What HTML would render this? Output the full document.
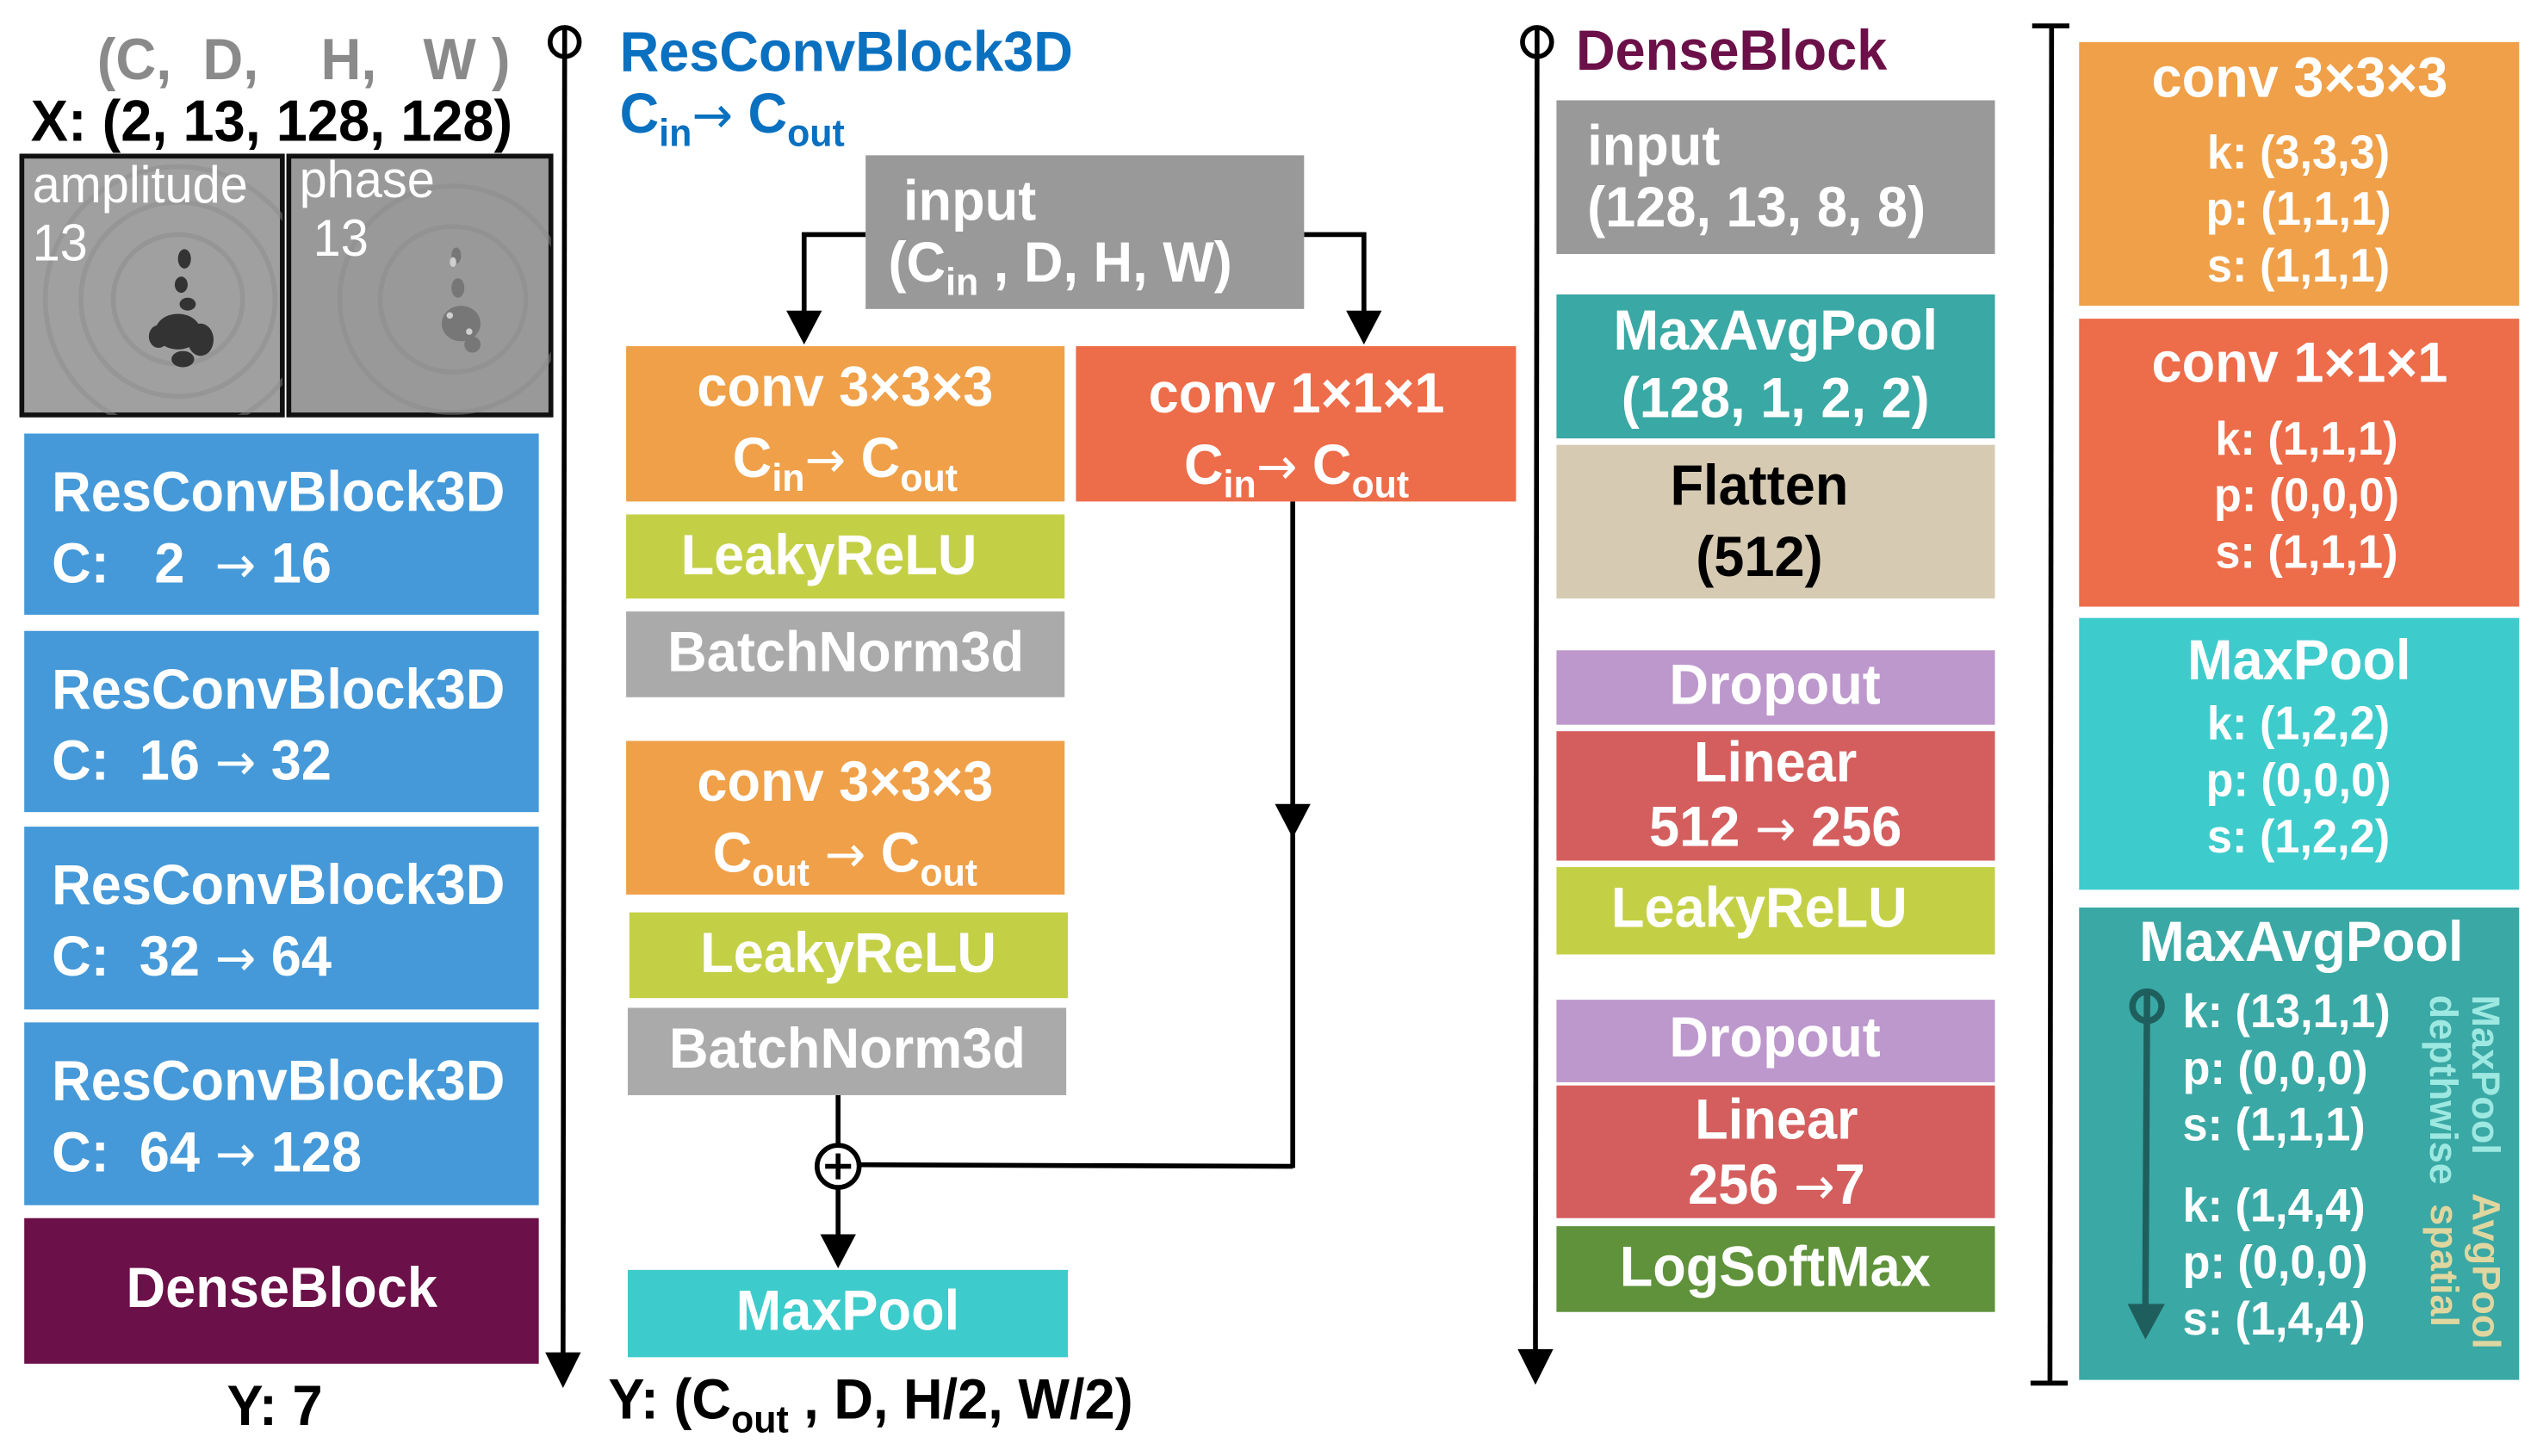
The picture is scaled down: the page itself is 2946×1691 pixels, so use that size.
<!DOCTYPE html>
<html><head><meta charset="utf-8"><style>
html,body{margin:0;padding:0;background:#fff;}
body{width:2946px;height:1691px;overflow:hidden;position:relative;}
#s{position:absolute;left:0;top:0;width:1568px;height:900px;transform:scale(1.8788);transform-origin:0 0;font-family:"Liberation Sans",sans-serif;font-weight:bold;}
.a{position:absolute;}
.b{position:absolute;color:#fff;}
.c{position:absolute;left:0;right:0;text-align:center;white-space:nowrap;}
.l{position:absolute;white-space:nowrap;}
.n{display:inline-block;transform:scaleX(.96);transform-origin:center;}
.nl{display:inline-block;transform:scaleX(.96);transform-origin:left center;}
sub{font-size:68%;vertical-align:-0.35em;line-height:0;}
.ar{font-family:"DejaVu Sans",sans-serif;font-weight:normal;font-size:90%;}
</style></head><body><div id="s">

<svg class="a" style="left:0;top:0" width="1568" height="900">
<defs>
<clipPath id="c1"><rect x="13.5" y="96.5" width="161" height="160"/></clipPath>
<clipPath id="c2"><rect x="178.5" y="96.5" width="162" height="160"/></clipPath>
</defs>
<circle cx="349" cy="26" r="9" fill="none" stroke="#000" stroke-width="3"/>
<line x1="349" y1="18" x2="348" y2="840" stroke="#000" stroke-width="3"/>
<polygon points="337,836 359,836 348,858" fill="#000"/>
<circle cx="950" cy="26" r="9" fill="none" stroke="#000" stroke-width="3"/>
<line x1="950" y1="18" x2="949" y2="838" stroke="#000" stroke-width="3"/>
<polygon points="938,834 960,834 949,856" fill="#000"/>
<line x1="1268" y1="16" x2="1267" y2="855" stroke="#000" stroke-width="3"/>
<line x1="1256" y1="16" x2="1279" y2="16" stroke="#000" stroke-width="3"/>
<line x1="1255" y1="855" x2="1278" y2="855" stroke="#000" stroke-width="3"/>
<polyline points="535,145 497,145 497,195" fill="none" stroke="#000" stroke-width="3"/>
<polygon points="486,192 508,192 497,213" fill="#000"/>
<polyline points="806,145 843,145 843,195" fill="none" stroke="#000" stroke-width="3"/>
<polygon points="832,192 854,192 843,213" fill="#000"/>
<line x1="799" y1="310" x2="799" y2="722" stroke="#000" stroke-width="3"/>
<polygon points="788,497 810,497 799,518" fill="#000"/>
<line x1="799" y1="721" x2="531" y2="720" stroke="#000" stroke-width="3"/>
<line x1="518" y1="677" x2="518" y2="766" stroke="#000" stroke-width="3"/>
<circle cx="518" cy="721" r="13" fill="#fff" stroke="#000" stroke-width="3"/>
<line x1="510" y1="721" x2="526" y2="721" stroke="#000" stroke-width="3"/>
<line x1="518" y1="713" x2="518" y2="729" stroke="#000" stroke-width="3"/>
<polygon points="507,763 529,763 518,784" fill="#000"/>
<rect x="13.5" y="96.5" width="161" height="160" fill="#a0a0a0" stroke="#111" stroke-width="3"/>
<rect x="178.5" y="96.5" width="162" height="160" fill="#999" stroke="#111" stroke-width="3"/>
<g fill="none" stroke="#8c8c8c" stroke-width="3" opacity=".5" clip-path="url(#c1)">
<circle cx="110" cy="185" r="40"/><circle cx="110" cy="185" r="60"/><circle cx="110" cy="185" r="82"/>
</g>
<g fill="none" stroke="#8c8c8c" stroke-width="3" opacity=".5" clip-path="url(#c2)">
<circle cx="280" cy="185" r="45"/><circle cx="280" cy="185" r="70"/>
</g>
<g fill="#333">
<ellipse cx="114" cy="160" rx="4" ry="6"/><ellipse cx="112" cy="176" rx="4" ry="5"/><ellipse cx="116" cy="188" rx="5" ry="4"/>
<ellipse cx="110" cy="205" rx="14" ry="11"/><ellipse cx="124" cy="210" rx="8" ry="10"/><ellipse cx="98" cy="208" rx="6" ry="7"/><ellipse cx="113" cy="222" rx="7" ry="5"/>
</g>
<g fill="#777">
<ellipse cx="282" cy="158" rx="3" ry="5"/><ellipse cx="283" cy="178" rx="4" ry="6"/><ellipse cx="285" cy="200" rx="12" ry="11"/><ellipse cx="292" cy="213" rx="5" ry="5"/>
</g>
<g fill="#cfcfcf"><ellipse cx="280" cy="162" rx="2" ry="3"/><ellipse cx="278" cy="195" rx="2" ry="2"/><ellipse cx="290" cy="205" rx="2" ry="2"/></g>
</svg>

<div class="l" style="left:60px;top:17px;font-size:36px;color:#8a8a8a;line-height:40px"><span class="nl">(C,&nbsp; D,&nbsp;&nbsp;&nbsp; H,&nbsp;&nbsp; W )</span></div>
<div class="l" style="left:19px;top:55px;font-size:36px;color:#000;line-height:40px"><span class="nl">X: (2, 13, 128, 128)</span></div>
<div class="l" style="left:20px;top:96px;font-size:32px;color:#fff;font-weight:normal;line-height:36px"><span class="nl">amplitude<br>13</span></div>
<div class="l" style="left:185px;top:93px;font-size:32px;color:#fff;font-weight:normal;line-height:36px"><span class="nl">phase<br>&nbsp;13</span></div>

<div class="b" style="left:15px;top:268px;width:318px;height:112px;background:#4599d8"><div class="l" style="left:17px;top:15px;font-size:35px;line-height:44px"><span class="nl">ResConvBlock3D<br>C:&nbsp;&nbsp; 2 &nbsp;<span class="ar">→</span> 16</span></div></div>
<div class="b" style="left:15px;top:390px;width:318px;height:112px;background:#4599d8"><div class="l" style="left:17px;top:15px;font-size:35px;line-height:44px"><span class="nl">ResConvBlock3D<br>C:&nbsp; 16 <span class="ar">→</span> 32</span></div></div>
<div class="b" style="left:15px;top:511px;width:318px;height:113px;background:#4599d8"><div class="l" style="left:17px;top:15px;font-size:35px;line-height:44px"><span class="nl">ResConvBlock3D<br>C:&nbsp; 32 <span class="ar">→</span> 64</span></div></div>
<div class="b" style="left:15px;top:632px;width:318px;height:113px;background:#4599d8"><div class="l" style="left:17px;top:15px;font-size:35px;line-height:44px"><span class="nl">ResConvBlock3D<br>C:&nbsp; 64 <span class="ar">→</span> 128</span></div></div>
<div class="b" style="left:15px;top:753px;width:318px;height:90px;background:#6b1048"><div class="c" style="top:24px;font-size:35px;line-height:40px"><span class="n">DenseBlock</span></div></div>
<div class="c" style="left:0;right:auto;width:340px;top:850px;font-size:35px;line-height:40px;color:#000"><span class="n">Y: 7</span></div>

<div class="l" style="left:383px;top:14px;font-size:35px;line-height:38px;color:#0a70c0"><span class="nl">ResConvBlock3D<br>C<sub>in</sub><span class="ar">→</span> C<sub>out</sub></span></div>
<div class="b" style="left:535px;top:96px;width:271px;height:95px;background:#999"><div class="l" style="left:14px;top:10px;font-size:35px;line-height:38px"><span class="nl">&nbsp;input<br>(C<sub>in</sub> , D, H, W)</span></div></div>
<div class="b" style="left:387px;top:214px;width:271px;height:96px;background:#efa048"><div class="c" style="top:4px;font-size:35px;line-height:44px"><span class="n">conv 3×3×3<br>C<sub>in</sub><span class="ar">→</span> C<sub>out</sub></span></div></div>
<div class="b" style="left:665px;top:214px;width:272px;height:96px;background:#ed6c49"><div class="c" style="top:8px;font-size:35px;line-height:44px"><span class="n">conv 1×1×1<br>C<sub>in</sub><span class="ar">→</span> C<sub>out</sub></span></div></div>
<div class="b" style="left:387px;top:318px;width:271px;height:52px;background:#c3d046"><div class="c" style="top:6px;left:-20px;font-size:35px;line-height:40px"><span class="n">LeakyReLU</span></div></div>
<div class="b" style="left:387px;top:378px;width:271px;height:53px;background:#aaa"><div class="c" style="top:6px;font-size:35px;line-height:40px"><span class="n">BatchNorm3d</span></div></div>
<div class="b" style="left:387px;top:458px;width:271px;height:95px;background:#efa048"><div class="c" style="top:4px;font-size:35px;line-height:44px"><span class="n">conv 3×3×3<br>C<sub>out</sub> <span class="ar">→</span> C<sub>out</sub></span></div></div>
<div class="b" style="left:389px;top:564px;width:271px;height:53px;background:#c3d046"><div class="c" style="top:6px;font-size:35px;line-height:40px"><span class="n">LeakyReLU</span></div></div>
<div class="b" style="left:388px;top:623px;width:271px;height:54px;background:#aaa"><div class="c" style="top:6px;font-size:35px;line-height:40px"><span class="n">BatchNorm3d</span></div></div>
<div class="b" style="left:388px;top:785px;width:272px;height:54px;background:#3ecbcc"><div class="c" style="top:6px;font-size:35px;line-height:40px"><span class="n">MaxPool</span></div></div>
<div class="l" style="left:376px;top:846px;font-size:35px;line-height:40px;color:#000"><span class="nl">Y: (C<sub>out</sub> , D, H/2, W/2)</span></div>

<div class="l" style="left:974px;top:13px;font-size:35px;line-height:38px;color:#6b1048"><span class="nl">DenseBlock</span></div>
<div class="b" style="left:962px;top:62px;width:271px;height:95px;background:#999"><div class="l" style="left:19px;top:10px;font-size:35px;line-height:38px"><span class="nl">input<br>(128, 13, 8, 8)</span></div></div>
<div class="b" style="left:962px;top:182px;width:271px;height:89px;background:#3aa8a4"><div class="c" style="top:2px;font-size:35px;line-height:42px"><span class="n">MaxAvgPool<br>(128, 1, 2, 2)</span></div></div>
<div class="b" style="left:962px;top:275px;width:271px;height:95px;background:#d6cab2;color:#000"><div class="c" style="top:4px;left:-20px;font-size:35px;line-height:44px"><span class="n">Flatten<br>(512)</span></div></div>
<div class="b" style="left:962px;top:402px;width:271px;height:46px;background:#bd98cc"><div class="c" style="top:2px;font-size:35px;line-height:40px"><span class="n">Dropout</span></div></div>
<div class="b" style="left:962px;top:452px;width:271px;height:80px;background:#d45e5e"><div class="c" style="top:0;font-size:35px;line-height:40px"><span class="n">Linear<br>512 <span class="ar">→</span> 256</span></div></div>
<div class="b" style="left:962px;top:536px;width:271px;height:54px;background:#c3d046"><div class="c" style="top:6px;left:-20px;font-size:35px;line-height:40px"><span class="n">LeakyReLU</span></div></div>
<div class="b" style="left:962px;top:618px;width:271px;height:51px;background:#bd98cc"><div class="c" style="top:4px;font-size:35px;line-height:40px"><span class="n">Dropout</span></div></div>
<div class="b" style="left:962px;top:671px;width:271px;height:82px;background:#d45e5e"><div class="c" style="top:2px;font-size:35px;line-height:40px"><span class="n">Linear<br>256 <span class="ar">→</span>7</span></div></div>
<div class="b" style="left:962px;top:758px;width:271px;height:53px;background:#5f923a"><div class="c" style="top:6px;font-size:35px;line-height:40px"><span class="n">LogSoftMax</span></div></div>

<div class="b" style="left:1285px;top:26px;width:272px;height:163px;background:#efa048"><div class="c" style="top:3px;font-size:35px;line-height:40px"><span class="n">conv 3×3×3</span></div><div class="c" style="top:52px;font-size:29px;line-height:35px"><span class="n">k: (3,3,3)<br>p: (1,1,1)<br>s: (1,1,1)</span></div></div>
<div class="b" style="left:1285px;top:197px;width:272px;height:178px;background:#ed6c49"><div class="c" style="top:8px;font-size:35px;line-height:40px"><span class="n">conv 1×1×1</span></div><div class="c" style="top:58px;left:10px;font-size:29px;line-height:35px"><span class="n">k: (1,1,1)<br>p: (0,0,0)<br>s: (1,1,1)</span></div></div>
<div class="b" style="left:1285px;top:382px;width:272px;height:168px;background:#3ecbcc"><div class="c" style="top:7px;font-size:35px;line-height:40px"><span class="n">MaxPool</span></div><div class="c" style="top:49px;font-size:29px;line-height:35px"><span class="n">k: (1,2,2)<br>p: (0,0,0)<br>s: (1,2,2)</span></div></div>
<div class="b" style="left:1285px;top:561px;width:272px;height:292px;background:#3aa8a4">
<div class="c" style="top:2px;left:2px;font-size:35px;line-height:40px"><span class="n">MaxAvgPool</span></div>
<div class="l" style="left:64px;top:48px;font-size:29px;line-height:35px"><span class="nl">k: (13,1,1)<br>p: (0,0,0)<br>s: (1,1,1)</span></div>
<div class="l" style="left:64px;top:168px;font-size:29px;line-height:35px"><span class="nl">k: (1,4,4)<br>p: (0,0,0)<br>s: (1,4,4)</span></div>
<div class="l" style="left:172px;top:93px;width:130px;font-size:24px;line-height:26px;color:#9ee8e2;text-align:left;transform:rotate(90deg);transform-origin:center"><span>MaxPool<br>depthwise</span></div>
<div class="l" style="left:180px;top:208px;width:115px;font-size:24px;line-height:26px;color:#e0d6a0;text-align:left;transform:rotate(90deg);transform-origin:center"><span>AvgPool<br>&nbsp;spatial</span></div>
</div>
<svg class="a" style="left:0;top:0" width="1568" height="900">
<circle cx="1327" cy="622" r="9" fill="none" stroke="#1e5f5d" stroke-width="4"/>
<line x1="1327" y1="614" x2="1326" y2="810" stroke="#1e5f5d" stroke-width="4"/>
<polygon points="1315,806 1338,806 1326,828" fill="#1e5f5d"/>
</svg>

</div></body></html>
